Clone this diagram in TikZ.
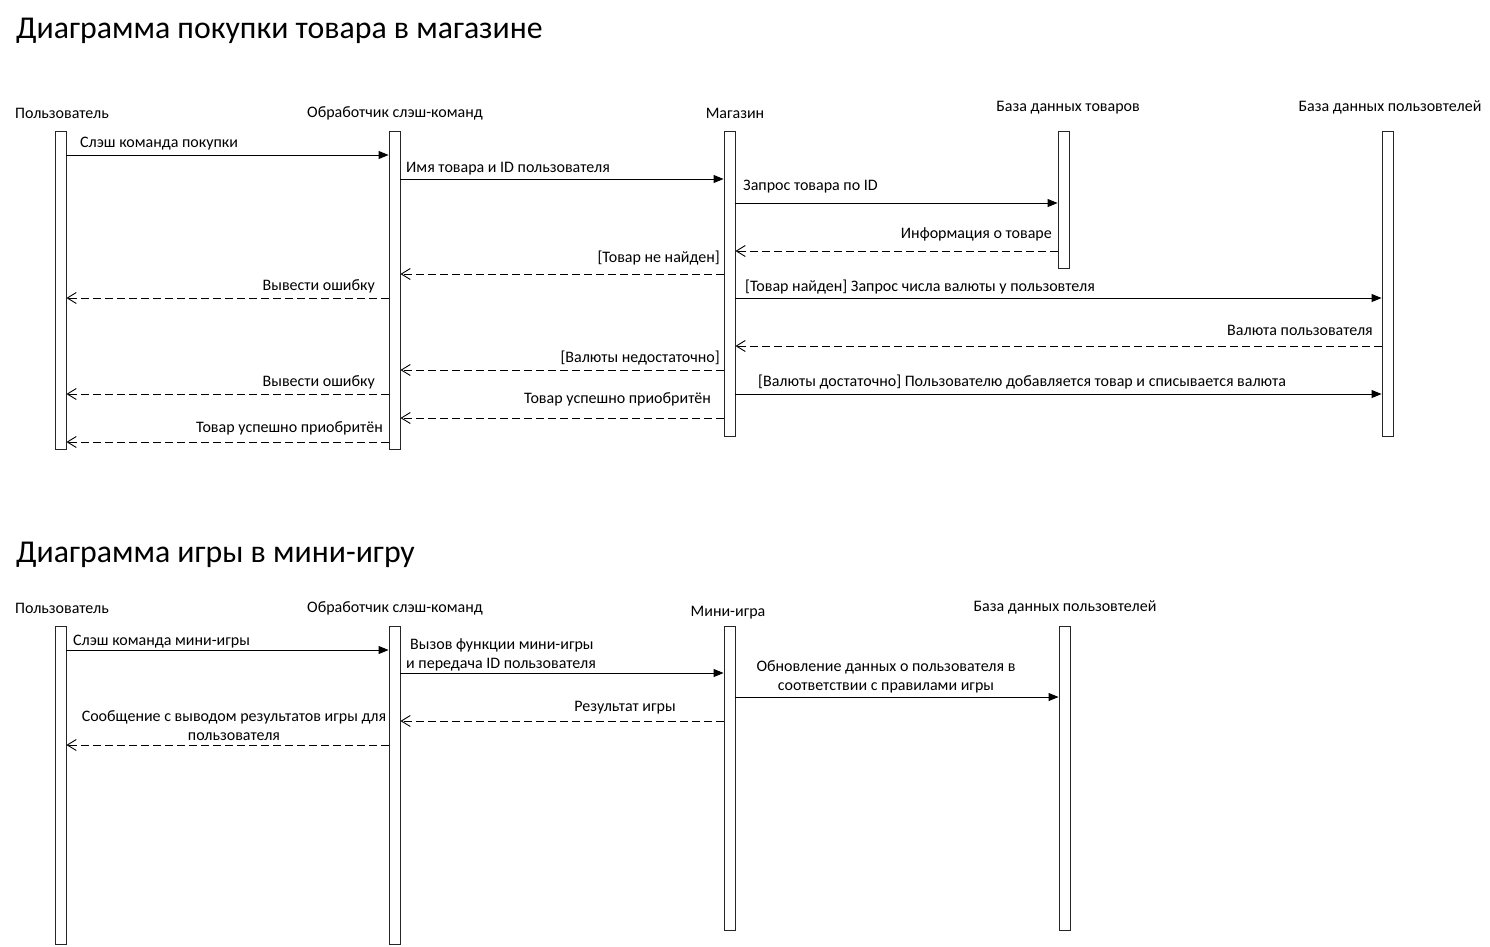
\documentclass[tikz,border=0pt]{standalone}
\usepackage{fontspec}
\setmainfont{Carlito}
\usetikzlibrary{arrows.meta}
\tikzset{
  bar/.style={draw=black!85, fill=white, line width=0.9pt, minimum width=11pt, inner sep=0pt, anchor=north},
  actor/.style={font=\fontsize{16}{18}\selectfont, inner sep=0pt, yshift=-1.5pt},
  lbl/.style={font=\fontsize{16}{18}\selectfont, inner sep=0pt, align=center, yshift=-1.5pt},
  ttl/.style={font=\fontsize{31.8}{36}\selectfont, inner sep=0pt, anchor=west, yshift=-1pt},
  sync/.style={line width=0.9pt, -{Triangle[length=10pt,width=8pt]}},
  reply/.style={line width=0.9pt, dash pattern=on 8pt off 4pt, -{Straight Barb[length=9pt,width=11pt,line width=0.9pt]}}
}
\begin{document}
\begin{tikzpicture}[x=1pt,y=-1pt]
\useasboundingbox (0,0) rectangle (1490,946);
% ---------- Diagram 1 ----------
\node[ttl] (T1) at (16,30) {Диаграмма покупки товара в магазине};
\node[actor] (A1) at (62,112) {Пользователь};
\node[actor] (A2) at (395,112) {Обработчик слэш-команд};
\node[actor] (A3) at (735,112) {Магазин};
\node[actor] (A4) at (1068,106) {База данных товаров};
\node[actor] (A5) at (1390,106) {База данных пользовтелей};
\node[bar, minimum height=318pt] (U1) at (60.5,131) {};
\node[bar, minimum height=318pt] (H1) at (394.5,131) {};
\node[bar, minimum height=305pt] (S1) at (729.5,131) {};
\node[bar, minimum height=137pt] (P1) at (1063.5,131) {};
\node[bar, minimum height=305pt] (D1) at (1387.5,131) {};

\draw[sync] (U1.east |- 0,155) -- (H1.west |- 0,155);
\node[lbl, anchor=west] (L1) at (80,142) {Слэш команда покупки};
\draw[sync] (H1.east |- 0,179) -- (S1.west |- 0,179);
\node[lbl, anchor=west] (L2) at (406,167) {Имя товара и ID пользователя};
\draw[sync] (S1.east |- 0,203) -- (P1.west |- 0,203);
\node[lbl, anchor=west] (L3) at (743,185) {Запрос товара по ID};
\draw[reply] (P1.west |- 0,251) -- (S1.east |- 0,251);
\node[lbl, anchor=east] (L4) at (1052,233) {Информация о товаре};
\draw[reply] (S1.west |- 0,274) -- (H1.east |- 0,274);
\node[lbl, anchor=east] (L5) at (720,257) {[Товар не найден]};
\draw[reply] (H1.west |- 0,298) -- (U1.east |- 0,298);
\node[lbl, anchor=east] (L6) at (375,285) {Вывести ошибку};
\draw[sync] (S1.east |- 0,298) -- (D1.west |- 0,298);
\node[lbl, anchor=west] (L7) at (745,286) {[Товар найден] Запрос числа валюты у пользовтеля};
\draw[reply] (D1.west |- 0,346) -- (S1.east |- 0,346);
\node[lbl, anchor=east] (L8) at (1373,329) {Валюта пользователя};
\draw[reply] (S1.west |- 0,370) -- (H1.east |- 0,370);
\node[lbl, anchor=east] (L9) at (720,357) {[Валюты недостаточно]};
\draw[reply] (H1.west |- 0,394) -- (U1.east |- 0,394);
\node[lbl, anchor=east] (L10) at (375,381) {Вывести ошибку};
\draw[sync] (S1.east |- 0,394) -- (D1.west |- 0,394);
\node[lbl, anchor=west] (L11) at (758,381) {[Валюты достаточно] Пользователю добавляется товар и списывается валюта};
\draw[reply] (S1.west |- 0,418) -- (H1.east |- 0,418);
\node[lbl, anchor=east] (L12) at (711,398) {Товар успешно приобритён};
\draw[reply] (H1.west |- 0,442) -- (U1.east |- 0,442);
\node[lbl, anchor=east] (L13) at (383,427) {Товар успешно приобритён};

% ---------- Diagram 2 ----------
\node[ttl] (T2) at (16,554) {Диаграмма игры в мини-игру};
\node[actor] (B1) at (62,607) {Пользователь};
\node[actor] (B2) at (395,607) {Обработчик слэш-команд};
\node[actor] (B3) at (728,611) {Мини-игра};
\node[actor] (B4) at (1065,606) {База данных пользовтелей};
\node[bar, minimum height=318pt] (U2) at (60.5,626) {};
\node[bar, minimum height=318pt] (H2) at (394.5,626) {};
\node[bar, minimum height=304pt] (G2) at (729.5,626) {};
\node[bar, minimum height=304pt] (D2) at (1064.5,626) {};

\draw[sync] (U2.east |- 0,650) -- (H2.west |- 0,650);
\node[lbl, anchor=west] (M1) at (73,640) {Слэш команда мини-игры};
\draw[sync] (H2.east |- 0,673) -- (G2.west |- 0,673);
\node[lbl, anchor=west, align=left] (M2) at (406,653.5) {\hspace*{4pt}Вызов функции мини-игры\\[1pt]и передача ID пользователя};
\draw[sync] (G2.east |- 0,697) -- (D2.west |- 0,697);
\node[lbl] (M3) at (886,675.5) {Обновление данных о пользователя в\\[1pt]соответствии с правилами игры};
\draw[reply] (G2.west |- 0,721) -- (H2.east |- 0,721);
\node[lbl] (M4) at (625,706) {Результат игры};
\draw[reply] (H2.west |- 0,745) -- (U2.east |- 0,745);
\node[lbl] (M5) at (234,724.5) {Сообщение с выводом результатов игры для\\[1pt]пользователя};
\end{tikzpicture}
\end{document}
